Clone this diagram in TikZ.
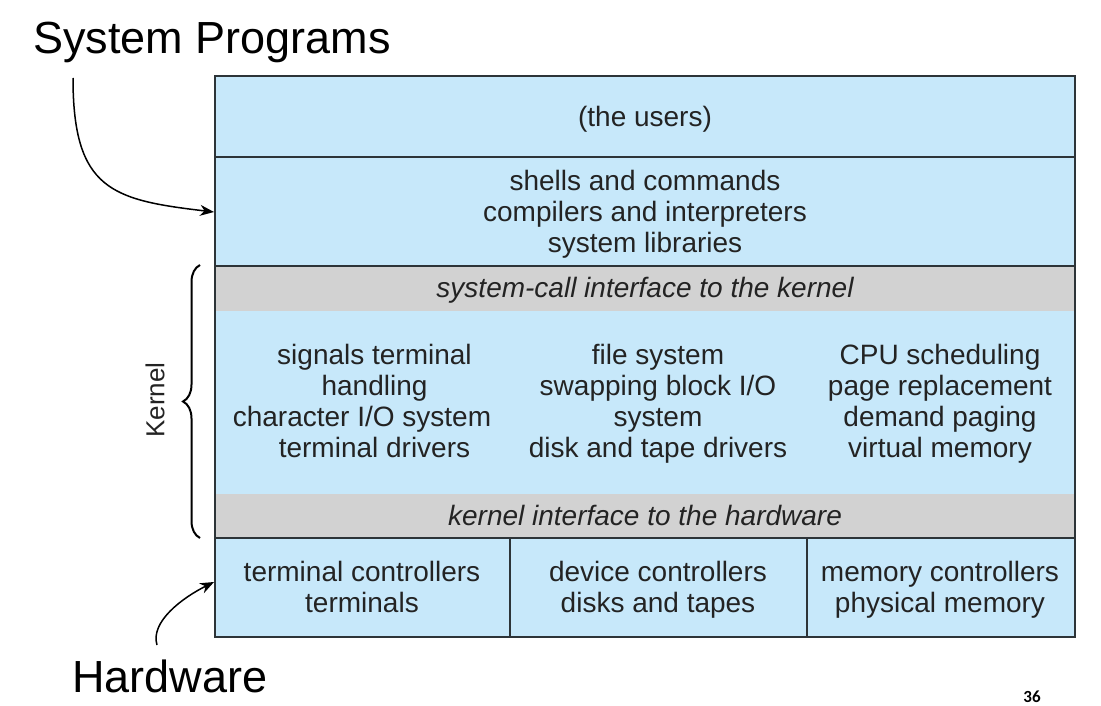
\documentclass[tikz,border=0pt]{standalone}
\usepackage{fontspec}
\setmainfont{Liberation Sans}
\newfontfamily\numfont{Carlito}
\usetikzlibrary{decorations.pathreplacing,arrows.meta}
\definecolor{cellblue}{RGB}{199,232,250}
\definecolor{cellgray}{RGB}{210,210,210}
\definecolor{edge}{RGB}{45,52,56}
\definecolor{txt}{RGB}{35,35,35}
\begin{document}
\begin{tikzpicture}[x=1pt,y=-1pt,
  body/.style={text=txt,font=\fontsize{28}{31}\selectfont,align=center,inner sep=0pt},
  ital/.style={text=txt,font=\fontsize{28}{31}\selectfont\itshape,align=center,inner sep=0pt},
  big/.style={text=black,font=\fontsize{45}{50}\selectfont,inner sep=0pt},
  arr/.style={-{Stealth[length=14pt,width=11pt]},line width=1.5pt},
  frame/.style={draw=edge,line width=2pt}]
\useasboundingbox (0,0) rectangle (1101,706);
\fill[white] (0,0) rectangle (1101,706);
% backgrounds
\fill[cellblue] (215,76) rectangle (1075,637);
\fill[cellgray] (215,266) rectangle (1075,311);
\fill[cellgray] (215,494) rectangle (1075,538);
% lines
\draw[frame] (215,157) -- (1075,157);
\draw[frame] (215,266) -- (1075,266);
\draw[frame] (215,538) -- (1075,538);
\draw[frame] (510,538) -- (510,637);
\draw[frame] (807,538) -- (807,637);
\draw[frame] (215,76) rectangle (1075,637);
% texts
\node[body] (users) at (645,120) {\strut(the users)};
\node[body] (shells) at (645,215) {\strut shells and commands\\\strut compilers and interpreters\\\strut system libraries};
\node[ital] (syscall) at (645,291) {\strut system-call interface to the kernel};
\node[body] (kcol1) at (362,405) {\strut\hspace*{25pt}signals terminal\\\strut\hspace*{25pt}handling\\\strut character I/O system\\\strut\hspace*{25pt}terminal drivers};
\node[body] (kcol2) at (658,405) {\strut file system\\\strut swapping block I/O\\\strut system\\\strut disk and tape drivers};
\node[body] (kcol3) at (940,405) {\strut CPU scheduling\\\strut page replacement\\\strut demand paging\\\strut virtual memory};
\node[ital] (kiface) at (645,519) {\strut kernel interface to the hardware};
\node[body] (hw1) at (362,591) {\strut terminal controllers\\\strut terminals};
\node[body] (hw2) at (658,591) {\strut device controllers\\\strut disks and tapes};
\node[body] (hw3) at (940,591) {\strut memory controllers\\\strut physical memory};
% kernel brace
\draw[line width=2pt,decorate,decoration={brace,amplitude=17pt}] (200,538) -- (200,265);
\node[text=txt,font=\fontsize{26}{30}\selectfont,rotate=90,inner sep=0pt] (kernel) at (155,400) {Kernel};
% outside labels
\node[big,anchor=base west] (sysprog) at (33,54) {System Programs};
\node[big,anchor=base west] (hardware) at (72,692) {Hardware};
\node[font=\numfont\bfseries\fontsize{17}{20}\selectfont,inner sep=0pt] (page) at (1032,697) {36};
% arrows
\coordinate (spfrom) at (73,78);
\coordinate (spto) at (214,212);
\draw[arr] (spfrom) .. controls (73,190) and (112,200) .. (spto);
\coordinate (hwfrom) at (157,645);
\coordinate (hwto) at (214,582);
\draw[arr] (hwfrom) .. controls (150,622) and (182,598) .. (hwto);
\end{tikzpicture}
\end{document}
